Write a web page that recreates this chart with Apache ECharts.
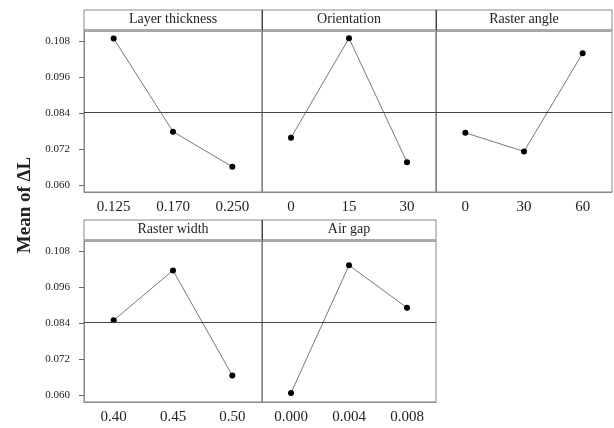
<!DOCTYPE html>
<html>
<head>
<meta charset="utf-8">
<script src="https://cdn.jsdelivr.net/npm/echarts@6/dist/echarts.min.js"></script>
<style>
  html, body { margin: 0; padding: 0; background: #fff; }
  #chart { width: 614px; height: 428px; }
</style>
</head>
<body>
<div id="chart"></div>
<script>
// main effects data (mean of delta L)
const panelNames = ["Layer thickness", "Orientation", "Raster angle", "Raster width", "Air gap"];
const layerThicknessLevels = ["0.125", "0.170", "0.250"];
const layerThicknessMeans = [0.1088, 0.0778, 0.0661];
const orientationLevels = ["0", "15", "30"];
const orientationMeans = [0.0758, 0.1089, 0.0676];
const rasterAngleLevels = ["0", "30", "60"];
const rasterAngleMeans = [0.0774, 0.0712, 0.1039];
const rasterWidthLevels = ["0.40", "0.45", "0.50"];
const rasterWidthMeans = [0.0849, 0.1015, 0.0665];
const airGapLevels = ["0.000", "0.004", "0.008"];
const airGapMeans = [0.0607, 0.1032, 0.0891];
const grandMean = 0.0842;
const yTicks = [0.060, 0.072, 0.084, 0.096, 0.108];

const levels = [layerThicknessLevels, orientationLevels, rasterAngleLevels, rasterWidthLevels, airGapLevels];
const means = [layerThicknessMeans, orientationMeans, rasterAngleMeans, rasterWidthMeans, airGapMeans];

// panel layout (px)
const boxes = [
  { left: 84, top: 31, width: 178 },
  { left: 262, top: 31, width: 174 },
  { left: 436, top: 31, width: 176 },
  { left: 84, top: 241, width: 178 },
  { left: 262, top: 241, width: 174 },
];
const plotH = 161;
const headH = 21;
const font = "'Liberation Serif', 'DejaVu Serif', serif";
const frame = "#888";

const chart = echarts.init(document.getElementById("chart"));

const grids = [], xAxes = [], yAxes = [], series = [], graphics = [];

boxes.forEach((b, i) => {
  grids.push({
    left: b.left, top: b.top, width: b.width, height: plotH,
    show: true, borderColor: frame, borderWidth: 1, backgroundColor: "transparent",
  });
  xAxes.push({
    type: "category",
    gridIndex: i,
    data: levels[i],
    boundaryGap: true,
    axisLine: { lineStyle: { color: frame } },
    axisTick: { alignWithLabel: true, length: 5, lineStyle: { color: "#666" } },
    axisLabel: { color: "#222", fontFamily: font, fontSize: 15, margin: 8 },
  });
  const showY = i === 0 || i === 3;
  yAxes.push({
    type: "value",
    gridIndex: i,
    min: 0.0577,
    max: 0.1113,
    splitLine: { show: false },
    axisLine: { show: true, lineStyle: { color: frame } },
    axisTick: { show: showY, length: 5, customValues: yTicks, lineStyle: { color: "#666" } },
    axisLabel: {
      show: showY, customValues: yTicks, color: "#222", fontFamily: font, fontSize: 11, margin: 14,
      formatter: (v) => v.toFixed(3),
    },
  });
  series.push({
    type: "line",
    xAxisIndex: i,
    yAxisIndex: i,
    data: means[i],
    symbol: "circle",
    symbolSize: 6,
    itemStyle: { color: "#000" },
    lineStyle: { color: "#777", width: 1 },
    silent: true,
    markLine: {
      silent: true,
      symbol: "none",
      precision: 4,
      label: { show: false },
      lineStyle: { color: "#444", type: "solid", width: 1 },
      data: [{ yAxis: grandMean }],
    },
  });
  // header strip
  graphics.push({
    type: "rect",
    shape: { x: b.left, y: b.top - headH, width: b.width, height: headH },
    style: { fill: "#fff", stroke: frame, lineWidth: 1 },
  });
  graphics.push({
    type: "line",
    shape: { x1: b.left, y1: b.top - 1, x2: b.left + b.width, y2: b.top - 1 },
    style: { stroke: "#aaa", lineWidth: 2 },
  });
  graphics.push({
    type: "text",
    x: b.left + b.width / 2,
    y: b.top - headH / 2 - 1,
    style: {
      text: panelNames[i], fontFamily: font, fontSize: 14, fill: "#222",
      align: "center", verticalAlign: "middle",
    },
  });
});

// divider lines between panels
graphics.push({ type: "line", shape: { x1: 262.5, y1: 10, x2: 262.5, y2: 192 }, style: { stroke: "#444", lineWidth: 1 } });
graphics.push({ type: "line", shape: { x1: 436.5, y1: 10, x2: 436.5, y2: 192 }, style: { stroke: "#444", lineWidth: 1 } });
graphics.push({ type: "line", shape: { x1: 262.5, y1: 220, x2: 262.5, y2: 402 }, style: { stroke: "#444", lineWidth: 1 } });

graphics.push({
  type: "text",
  x: 25,
  y: 205,
  rotation: Math.PI / 2,
  style: {
    text: "Mean of ΔL", fontFamily: font, fontSize: 19, fontWeight: "bold", fill: "#222",
    align: "center", verticalAlign: "middle",
  },
});

chart.setOption({
  animation: false,
  grid: grids,
  xAxis: xAxes,
  yAxis: yAxes,
  series: series,
  graphic: graphics,
});
</script>
</body>
</html>
